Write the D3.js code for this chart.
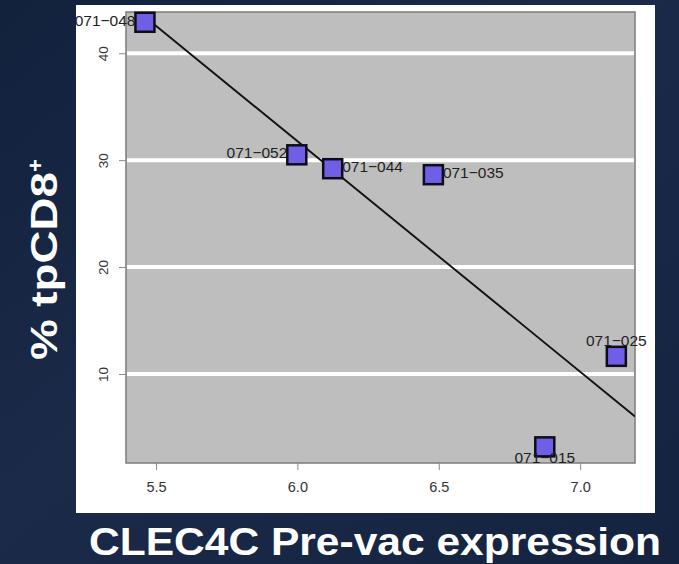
<!DOCTYPE html>
<html>
<head>
<meta charset="utf-8">
<script src="https://cdn.jsdelivr.net/npm/d3@7"></script>
<style>
  body { margin: 0; background: #16243f; }
  svg { display: block; }
</style>
</head>
<body>
<div id="chart"></div>
<script>
// sample ids, CLEC4C pre-vac expression and % tpCD8+
const samples = ['071-048', '071-052', '071-044', '071-035', '071-015', '071-025'];
const expression = [5.461, 5.998, 6.125, 6.481, 6.875, 7.128];
const tpCD8 = [42.9, 30.5, 29.2, 28.64, 3.18, 11.65];
// label side as R text(pos=): 1 below, 2 left, 3 above, 4 right
const labelPos = [2, 2, 4, 4, 1, 3];
const xTicks = [5.5, 6.0, 6.5, 7.0];
const yTicks = [10, 20, 30, 40];

const width = 679, height = 564;
const panel = {x: 76, y: 5, w: 579, h: 508};
const plot = {left: 126, right: 635, top: 12, bottom: 463};

const svg = d3.select('#chart').append('svg')
    .attr('width', width)
    .attr('height', height);

// slide background
const defs = svg.append('defs');
const grad = defs.append('linearGradient')
    .attr('id', 'bg')
    .attr('x1', '0').attr('y1', '0').attr('x2', '1').attr('y2', '1');
grad.append('stop').attr('offset', '0%').attr('stop-color', '#12213c');
grad.append('stop').attr('offset', '45%').attr('stop-color', '#1a2a48');
grad.append('stop').attr('offset', '100%').attr('stop-color', '#142340');
svg.append('rect')
    .attr('width', width)
    .attr('height', height)
    .attr('fill', 'url(#bg)');

defs.append('clipPath').attr('id', 'panelClip')
    .append('rect')
    .attr('x', panel.x).attr('y', panel.y)
    .attr('width', panel.w).attr('height', panel.h);
defs.append('clipPath').attr('id', 'plotClip')
    .append('rect')
    .attr('x', plot.left).attr('y', plot.top)
    .attr('width', plot.right - plot.left).attr('height', plot.bottom - plot.top);

// white figure panel
svg.append('rect')
    .attr('x', panel.x).attr('y', panel.y)
    .attr('width', panel.w).attr('height', panel.h)
    .attr('fill', '#ffffff');

const x = d3.scaleLinear().domain([5.394, 7.194]).range([plot.left, plot.right]);
const y = d3.scaleLinear().domain([1.67, 43.86]).range([plot.bottom, plot.top]);

// gray plot region
svg.append('rect')
    .attr('x', plot.left).attr('y', plot.top)
    .attr('width', plot.right - plot.left).attr('height', plot.bottom - plot.top)
    .attr('fill', '#bebebe')
    .attr('stroke', '#7c7c7c')
    .attr('stroke-width', 1.5);

// white grid lines
svg.append('g')
    .selectAll('line')
    .data(yTicks)
    .enter()
    .append('line')
    .attr('x1', plot.left + 1)
    .attr('x2', plot.right - 1)
    .attr('y1', d => y(d))
    .attr('y2', d => y(d))
    .attr('stroke', '#ffffff')
    .attr('stroke-width', 4);

// axes
const xAxis = svg.append('g')
    .attr('transform', `translate(0,${plot.bottom})`)
    .call(d3.axisBottom(x).tickValues(xTicks).tickFormat(d3.format('.1f')).tickSize(7).tickPadding(12));
xAxis.select('.domain').remove();
xAxis.selectAll('line').attr('stroke', '#8a8a8a');
xAxis.selectAll('text')
    .attr('fill', '#333333')
    .attr('font-family', 'Liberation Sans, Arial, sans-serif')
    .attr('font-size', 14.5);

const yAxis = svg.append('g')
    .attr('transform', `translate(${plot.left},0)`)
    .call(d3.axisLeft(y).tickValues(yTicks).tickSize(7));
yAxis.select('.domain').remove();
yAxis.selectAll('line').attr('stroke', '#8a8a8a');
yAxis.selectAll('text')
    .attr('fill', '#333333')
    .attr('font-family', 'Liberation Sans, Arial, sans-serif')
    .attr('font-size', 13.5)
    .attr('x', null)
    .attr('dy', null)
    .attr('text-anchor', 'middle')
    .attr('transform', 'translate(-23,0) rotate(-90)')
    .attr('dominant-baseline', 'central');

// least squares fit line (abline)
const mx = d3.mean(expression), my = d3.mean(tpCD8);
const sxy = d3.sum(expression, (v, i) => (v - mx) * (tpCD8[i] - my));
const sxx = d3.sum(expression, v => (v - mx) * (v - mx));
const slope = sxy / sxx;
const intercept = my - slope * mx;
const xd = x.domain();
svg.append('line')
    .attr('clip-path', 'url(#plotClip)')
    .attr('x1', x(xd[0])).attr('y1', y(intercept + slope * xd[0]))
    .attr('x2', x(xd[1])).attr('y2', y(intercept + slope * xd[1]))
    .attr('stroke', '#111111')
    .attr('stroke-width', 1.9);

// points
const pts = samples.map((s, i) => ({id: s, x: expression[i], y: tpCD8[i], pos: labelPos[i]}));
const half = 9.5;

svg.append('g')
    .selectAll('rect')
    .data(pts)
    .enter()
    .append('rect')
    .attr('x', d => x(d.x) - half)
    .attr('y', d => y(d.y) - half)
    .attr('width', half * 2)
    .attr('height', half * 2)
    .attr('fill', '#6f5fe6')
    .attr('stroke', '#0d0d1a')
    .attr('stroke-width', 2.5);

// point labels
svg.append('g')
    .attr('clip-path', 'url(#panelClip)')
    .selectAll('text')
    .data(pts)
    .enter()
    .append('text')
    .attr('x', d => d.pos === 2 ? x(d.x) - half : d.pos === 4 ? x(d.x) + half : x(d.x))
    .attr('y', d => d.pos === 1 ? y(d.y) + 16.5 : d.pos === 3 ? y(d.y) - 10 : y(d.y) + 3.5)
    .attr('text-anchor', d => d.pos === 2 ? 'end' : d.pos === 4 ? 'start' : 'middle')
    .attr('font-family', 'Liberation Sans, Arial, sans-serif')
    .attr('font-size', 15.5)
    .attr('fill', '#1e1e1e')
    .text(d => d.id.replace('-', '\u2212'));

// axis titles
svg.append('text')
    .attr('x', 89)
    .attr('y', 555)
    .attr('textLength', 572)
    .attr('lengthAdjust', 'spacingAndGlyphs')
    .attr('font-family', 'Liberation Sans, Arial, sans-serif')
    .attr('font-weight', 'bold')
    .attr('font-size', 38)
    .attr('fill', '#ffffff')
    .text('CLEC4C Pre-vac expression');

const yTitle = svg.append('text')
    .attr('transform', 'translate(57,360) rotate(-90)')
    .attr('font-family', 'Liberation Sans, Arial, sans-serif')
    .attr('font-weight', 'bold')
    .attr('font-size', 37)
    .attr('fill', '#ffffff');
yTitle.append('tspan')
    .attr('textLength', 188)
    .attr('lengthAdjust', 'spacingAndGlyphs')
    .text('% tpCD8');
yTitle.append('tspan')
    .attr('font-size', 22)
    .attr('dy', -14)
    .text('+');
</script>
</body>
</html>
